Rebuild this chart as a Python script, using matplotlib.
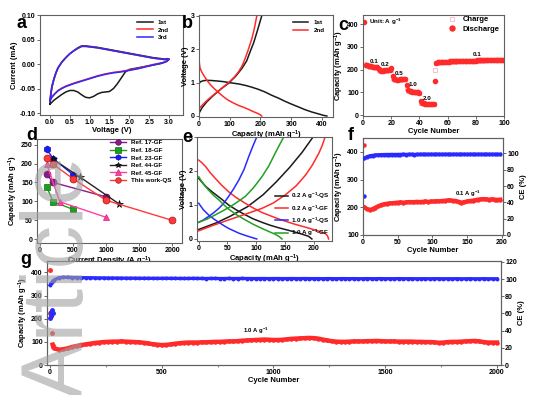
import numpy as np
import matplotlib
matplotlib.use('Agg')
import matplotlib.pyplot as plt
from matplotlib.ticker import MultipleLocator, FormatStrFormatter

plt.rcParams['font.family'] = ['Liberation Sans', 'DejaVu Sans']
plt.rcParams['font.weight'] = 'bold'
plt.rcParams['axes.labelweight'] = 'bold'
plt.rcParams['mathtext.default'] = 'regular'

W, H = 534, 395
RED = '#ff2a2a'
BLUE = '#2a2aff'
BLACK = '#1a1a1a'
GREEN = '#22a022'

# ---------------- data ----------------
# (a) CV curves
a1_v = [0.0, 0.02, 0.05, 0.1, 0.15, 0.2, 0.3, 0.4, 0.5, 0.6, 0.7, 0.8, 0.9, 1.0, 1.2, 1.4, 1.6, 1.8, 2.0, 2.2, 2.4, 2.6, 2.8, 2.9, 2.95, 3.0,
        2.95, 2.9, 2.8, 2.6, 2.4, 2.2, 2.0, 1.9, 1.8, 1.7, 1.6, 1.5, 1.4, 1.3, 1.2, 1.1, 1.0, 0.9, 0.8, 0.7, 0.6, 0.5, 0.4, 0.3, 0.2, 0.1, 0.05, 0.0]
a1_i = [-0.082, -0.066, -0.048, -0.032, -0.019, -0.009, 0.004, 0.013, 0.021, 0.027, 0.033, 0.037, 0.037, 0.036, 0.034, 0.031, 0.028, 0.025, 0.022, 0.019, 0.016, 0.013, 0.011, 0.010, 0.011, 0.010,
        0.006, 0.004, 0.001, -0.002, -0.005, -0.008, -0.011, -0.016, -0.028, -0.040, -0.050, -0.056, -0.057, -0.058, -0.061, -0.066, -0.069, -0.068, -0.063, -0.057, -0.054, -0.054, -0.057, -0.062, -0.068, -0.074, -0.078, -0.082]
a2_v = [0.0, 0.02, 0.05, 0.1, 0.15, 0.2, 0.3, 0.4, 0.5, 0.6, 0.7, 0.8, 0.9, 1.0, 1.2, 1.4, 1.6, 1.8, 2.0, 2.2, 2.4, 2.6, 2.8, 2.9, 2.95, 3.0,
        2.95, 2.9, 2.8, 2.6, 2.4, 2.2, 2.0, 1.8, 1.6, 1.4, 1.2, 1.0, 0.8, 0.6, 0.4, 0.3, 0.2, 0.1, 0.05, 0.0]
a2_i = [-0.074, -0.061, -0.045, -0.030, -0.018, -0.008, 0.004, 0.013, 0.021, 0.027, 0.032, 0.036, 0.036, 0.035, 0.033, 0.030, 0.027, 0.024, 0.021, 0.018, 0.015, 0.012, 0.010, 0.009, 0.010, 0.010,
        0.006, 0.004, 0.002, -0.001, -0.005, -0.009, -0.012, -0.015, -0.017, -0.020, -0.024, -0.029, -0.034, -0.039, -0.045, -0.049, -0.054, -0.062, -0.067, -0.074]
a3_v = [0.0, 0.02, 0.05, 0.1, 0.15, 0.2, 0.3, 0.4, 0.5, 0.6, 0.7, 0.8, 0.9, 1.0, 1.2, 1.4, 1.6, 1.8, 2.0, 2.2, 2.4, 2.6, 2.8, 2.9, 2.95, 3.0,
        2.95, 2.9, 2.8, 2.6, 2.4, 2.2, 2.0, 1.8, 1.6, 1.4, 1.2, 1.0, 0.8, 0.6, 0.4, 0.3, 0.2, 0.1, 0.05, 0.0]
a3_i = [-0.075, -0.062, -0.045, -0.030, -0.018, -0.008, 0.004, 0.013, 0.021, 0.027, 0.032, 0.036, 0.036, 0.035, 0.033, 0.030, 0.027, 0.024, 0.021, 0.018, 0.015, 0.012, 0.010, 0.009, 0.010, 0.010,
        0.006, 0.004, 0.002, -0.002, -0.006, -0.010, -0.013, -0.016, -0.018, -0.021, -0.025, -0.030, -0.035, -0.040, -0.046, -0.050, -0.055, -0.063, -0.068, -0.075]

# (b) charge/discharge profiles
b1_dis_cap = [0, 5, 15, 25, 40, 60, 80, 100, 130, 150, 170, 193, 215, 237, 260, 280, 300, 324, 345, 367, 390, 405, 416]
b1_dis_v = [0.97, 1.03, 1.06, 1.07, 1.065, 1.05, 1.03, 1.0, 0.96, 0.92, 0.87, 0.80, 0.72, 0.62, 0.53, 0.44, 0.36, 0.27, 0.19, 0.12, 0.06, 0.02, 0.0]
b1_chg_cap = [0, 10, 25, 45, 70, 96, 120, 139, 155, 166, 178, 188, 196, 204]
b1_chg_v = [0.08, 0.25, 0.42, 0.60, 0.80, 0.98, 1.20, 1.42, 1.65, 1.92, 2.20, 2.50, 2.75, 3.0]
b2_dis_cap = [0, 1, 3, 9, 18, 30, 40, 52, 63, 74, 85, 96, 112, 128, 145, 161, 177, 193, 200, 204]
b2_dis_v = [1.82, 1.6, 1.45, 1.32, 1.18, 1.02, 0.91, 0.80, 0.71, 0.62, 0.54, 0.47, 0.39, 0.32, 0.26, 0.20, 0.13, 0.07, 0.03, 0.0]
b2_chg_cap = [0, 15, 30, 52, 75, 96, 115, 128, 140, 150, 160, 172, 180, 188]
b2_chg_v = [0.22, 0.37, 0.50, 0.67, 0.84, 1.0, 1.17, 1.32, 1.50, 1.72, 1.98, 2.32, 2.62, 3.0]

# (c) rate capability
c_cycle = list(range(1, 101))
c_dis = [409, 221, 219, 217, 215, 214, 213, 212, 211, 210,
         201, 197, 196, 196, 197, 197, 198, 199, 200, 208,
         174, 160, 157, 156, 156, 157, 157, 158, 158, 159,
         133, 110, 106, 104, 103, 102, 101, 100, 100, 99,
         64, 53, 51, 50, 50, 49, 49, 49, 48, 48,
         152, 231, 232, 233, 233, 234, 234, 234, 235, 235,
         235, 236, 236, 236, 236, 237, 237, 237, 237, 238,
         238, 238, 238, 238, 239, 239, 239, 239, 239, 239,
         240, 240, 240, 240, 240, 241, 241, 241, 241, 241,
         241, 241, 242, 242, 242, 242, 242, 242, 243, 243]
c_chg = [226, 219, 217, 215, 213, 212, 211, 210, 209, 208,
         199, 196, 195, 195, 196, 196, 197, 198, 199, 200,
         165, 158, 156, 155, 155, 156, 156, 157, 157, 158,
         118, 108, 105, 103, 102, 101, 100, 99, 99, 98,
         55, 51, 50, 49, 49, 48, 48, 48, 47, 47,
         200, 229, 231, 232, 232, 233, 233, 233, 234, 234,
         234, 235, 235, 235, 235, 236, 236, 236, 236, 237,
         237, 237, 237, 237, 238, 238, 238, 238, 238, 238,
         239, 239, 239, 239, 239, 240, 240, 240, 240, 240,
         240, 240, 241, 241, 241, 241, 241, 241, 242, 242]
c_rate_labels = ['0.1', '0.2', '0.5', '1.0', '2.0', '0.1']
c_rate_x = [8, 15.5, 25.7, 35.3, 45.3, 81]
c_rate_y = [236, 221, 185, 133, 75, 265]

# (d) comparison
d_labels = ['Ref. 17-GF', 'Ref. 18-GF', 'Ref. 23-GF', 'Ref. 44-GF', 'Ref. 45-GF', 'This work-QS']
d_x = [[100, 200, 1000], [100, 200, 500], [100, 200, 500], [200, 600, 1200], [100, 300, 1000], [100, 200, 500, 1000, 2000]]
d_y = [[172, 150, 112], [139, 99, 79], [238, 213, 171], [211, 165, 93], [200, 99, 58], [216, 198, 160, 103, 50]]

# (e) profiles at different rates
e_labels = [r'0.2 A g$^{-1}$-QS', r'0.2 A g$^{-1}$-GF', r'1.0 A g$^{-1}$-QS', r'1.0 A g$^{-1}$-GF']
e_dis_cap = [[0, 12, 23, 40, 52, 65, 81, 95, 110, 125, 139, 155, 168, 180, 191, 197],
             [0, 5, 12, 20, 29, 40, 52, 65, 81, 95, 110, 125, 139, 155, 168, 183, 197, 207, 214, 220, 223, 225, 226],
             [0, 8, 17, 26, 35, 44, 52, 61, 70, 80, 93, 101],
             [0, 8, 17, 26, 35, 44, 52, 65, 81, 95, 110, 122, 133, 140, 145]]
e_dis_v = [[1.78, 1.55, 1.39, 1.17, 1.0, 0.86, 0.71, 0.59, 0.49, 0.40, 0.33, 0.26, 0.20, 0.14, 0.08, 0.0],
           [2.32, 2.25, 2.13, 1.95, 1.78, 1.58, 1.39, 1.22, 1.05, 0.91, 0.78, 0.68, 0.59, 0.50, 0.43, 0.36, 0.29, 0.24, 0.20, 0.16, 0.12, 0.06, 0.0],
           [1.05, 0.86, 0.71, 0.59, 0.49, 0.39, 0.31, 0.24, 0.17, 0.11, 0.04, 0.0],
           [1.83, 1.62, 1.44, 1.28, 1.15, 1.0, 0.88, 0.72, 0.56, 0.43, 0.31, 0.22, 0.14, 0.07, 0.0]]
e_chg_cap = [[0, 30, 55, 85, 112, 135, 158, 180, 199],
             [0, 25, 52, 80, 110, 130, 151, 170, 186, 198, 209, 215, 220],
             [0, 8, 17, 26, 35, 44, 52, 61, 70, 79, 87, 94, 101],
             [0, 15, 29, 40, 52, 65, 81, 95, 110, 122, 133, 141, 148]]
e_chg_v = [[0.28, 0.47, 0.67, 0.95, 1.30, 1.68, 2.10, 2.55, 3.0],
           [0.24, 0.40, 0.56, 0.72, 0.90, 1.06, 1.30, 1.57, 1.88, 2.18, 2.52, 2.75, 3.0],
           [0.49, 0.56, 0.66, 0.77, 0.90, 1.06, 1.25, 1.48, 1.74, 2.05, 2.42, 2.72, 3.0],
           [0.49, 0.59, 0.71, 0.81, 0.92, 1.06, 1.25, 1.50, 1.83, 2.15, 2.52, 2.78, 3.0]]

# (f) cycling at 0.1 A/g
f_first_cap = 423
f_first_ce = 48
f_cycle = list(range(2, 201, 4))
f_cap = [200, 194, 191, 194, 199, 204, 208, 211, 213, 214,
         215, 216, 217, 218, 217, 218, 219, 219, 219, 220,
         219, 220, 221, 220, 221, 221, 222, 222, 223, 224,
         225, 225, 224, 223, 220, 217, 219, 221, 223, 224,
         226, 228, 229, 230, 229, 228, 229, 228, 227, 228]
f_ce = [94.0, 96.0, 97.0, 97.5, 98.0, 98.2, 98.4, 98.5, 98.6, 98.6,
        98.7, 98.6, 98.7, 98.7, 98.8, 98.7, 98.8, 98.8, 98.7, 98.8,
        98.8, 98.9, 98.8, 98.8, 98.9, 98.8, 98.9, 98.9, 98.8, 98.9,
        98.9, 98.8, 98.9, 98.9, 98.8, 98.9, 98.9, 98.8, 98.9, 98.9,
        98.8, 98.9, 98.9, 98.8, 98.9, 98.8, 98.9, 98.8, 98.8, 98.8]

# (g) long cycling at 1.0 A/g
g_early_cyc = [1, 2, 3, 4, 5, 10]
g_early_cap = [408, 225, 218, 212, 210, 140]
g_early_ce_cyc = [2, 4, 6, 9, 13]
g_early_ce = [55, 62, 58, 64, 60]
g_cyc = [12, 15] + list(range(20, 2001, 20))
g_cap = [88, 78,
         72, 66, 68, 72, 78, 82, 86, 89, 92, 95,
         97, 99, 100, 101, 101, 102, 101, 100, 99, 98,
         96, 93, 90, 88, 86, 87, 89, 92, 94, 96,
         97, 97, 97, 98, 98, 99, 100, 100, 101, 102,
         102, 103, 105, 106, 107, 108, 109, 110, 109, 108,
         108, 109, 111, 113, 114, 115, 116, 117, 116, 114,
         110, 106, 103, 101, 100, 100, 101, 102, 102, 102,
         103, 103, 104, 103, 102, 102, 102, 101, 101, 101,
         101, 100, 100, 99, 99, 98, 96, 97, 99, 100,
         100, 101, 102, 103, 104, 102, 99, 97, 97, 97]
g_ce_cyc = [1, 5, 10, 15] + list(range(20, 2001, 20))
g_ce = [93.0, 95.0, 96.5, 98.0,
        99.0, 101.5, 102.0, 102.0, 101.8, 101.7, 101.6, 101.5, 101.5, 101.4,
        101.3, 101.3, 101.2, 101.2, 101.1, 101.1, 101.0, 101.0, 101.0, 100.9,
        100.9, 100.9, 100.8, 100.8, 100.8, 100.9, 100.8, 100.8, 100.7, 100.7,
        100.7, 100.8, 100.7, 100.7, 100.6, 100.7, 100.7, 100.6, 100.6, 100.7,
        100.6, 100.6, 100.7, 100.6, 100.6, 100.5, 100.6, 100.6, 100.5, 100.6,
        100.6, 100.5, 100.5, 100.6, 100.5, 100.5, 100.6, 100.5, 100.5, 100.5,
        100.4, 100.5, 100.5, 100.4, 100.5, 100.5, 100.4, 100.5, 100.4, 100.4,
        100.5, 100.4, 100.4, 100.5, 100.4, 100.4, 100.4, 100.5, 100.4, 100.4,
        100.4, 100.3, 100.4, 100.4, 100.3, 100.4, 100.4, 100.3, 100.4, 100.3,
        100.4, 100.3, 100.3, 100.4, 100.3, 100.3, 100.4, 100.3, 100.3, 100.3]

CAP_LABEL = r'Capacity (mAh g$^{-1}$)'

# ---------------- figure ----------------
fig = plt.figure(figsize=(W / 100, H / 100), dpi=100)


def add_ax(x0, y0, x1, y1):
    return fig.add_axes([x0 / W, 1 - y1 / H, (x1 - x0) / W, (y1 - y0) / H])


def style(ax):
    for s in ax.spines.values():
        s.set_color('#606060')
        s.set_linewidth(0.8)
    ax.tick_params(labelsize=5, length=2, width=0.6, pad=1, color='#505050', direction='out')


def label(ax, xl, yl):
    ax.set_xlabel(xl, fontsize=5.5, labelpad=0.5)
    ax.set_ylabel(yl, fontsize=5.5, labelpad=1)


def panel(ch, x, y):
    fig.text(x / W, 1 - y / H, ch, fontsize=13, fontweight='bold', ha='center', va='center')


# (a)
ax = add_ax(40, 15, 183, 115)
style(ax)
ax.plot(a1_v, a1_i, color=BLACK, lw=1.1, label='1st')
ax.plot(a2_v, a2_i, color=RED, lw=1.1, label='2nd')
ax.plot(a3_v, a3_i, color=BLUE, lw=1.1, label='3rd')
ax.set_xlim(-0.25, 3.35)
ax.set_ylim(-0.104, 0.10)
ax.xaxis.set_major_locator(MultipleLocator(0.5))
ax.xaxis.set_major_formatter(FormatStrFormatter('%.1f'))
ax.yaxis.set_major_locator(MultipleLocator(0.05))
ax.yaxis.set_major_formatter(FormatStrFormatter('%.2f'))
label(ax, 'Voltage (V)', 'Current (mA)')
ax.legend(loc='upper left', bbox_to_anchor=(0.68, 0.95), fontsize=4.5, frameon=False,
          handlelength=2.5, labelspacing=0.3, borderpad=0, borderaxespad=0)

# (b)
ax = add_ax(199, 15, 333, 117)
style(ax)
ax.plot(b1_dis_cap, b1_dis_v, color=BLACK, lw=1.1, label='1st')
ax.plot(b2_dis_cap, b2_dis_v, color=RED, lw=1.1, label='2nd')
ax.plot(b1_chg_cap, b1_chg_v, color=BLACK, lw=1.1)
ax.plot(b2_chg_cap, b2_chg_v, color=RED, lw=1.1)
ax.set_xlim(0, 436)
ax.set_ylim(-0.03, 3.03)
ax.xaxis.set_major_locator(MultipleLocator(100))
ax.yaxis.set_major_locator(MultipleLocator(1))
label(ax, r'Capacity (mAh g$^{-1}$)', 'Voltage (V)')
ax.legend(loc='upper left', bbox_to_anchor=(0.70, 0.95), fontsize=4.5, frameon=False,
          handlelength=2.5, labelspacing=0.3, borderpad=0, borderaxespad=0)

# (c)
ax = add_ax(363, 15, 504, 116)
style(ax)
ax.plot(c_cycle, c_chg, ls='none', marker='s', ms=3, mfc='none', mec='#f6b4c6', mew=0.6, label='Charge')
ax.plot(c_cycle, c_dis, ls='none', marker='o', ms=3, color=RED, mec=RED, label='Discharge')
for t, x, y in zip(c_rate_labels, c_rate_x, c_rate_y):
    ax.text(x, y, t, fontsize=4.5, ha='center', va='center')
ax.text(4, 409, r'Unit: A g$^{-1}$', fontsize=4.5, ha='left', va='center')
ax.set_xlim(0, 100)
ax.set_ylim(-4, 440)
ax.xaxis.set_major_locator(MultipleLocator(20))
ax.yaxis.set_major_locator(MultipleLocator(100))
label(ax, 'Cycle Number', CAP_LABEL)
ax.legend(loc='upper left', bbox_to_anchor=(0.6, 0.99), fontsize=5.5, frameon=False,
          handlelength=1.2, labelspacing=0.25, borderpad=0, borderaxespad=0, markerscale=1.2)

# (d)
ax = add_ax(37, 139, 182, 243)
style(ax)
d_colors = ['#8b1a8b', '#1e9e1e', '#1a1aff', '#222222', '#ff40a0', '#ff3a3a']
d_markers = ['o', 's', 'h', '*', '^', 'o']
d_edges = ['#5a0a5a', '#0e6e0e', '#0a0aa0', '#000000', '#d02080', '#b01010']
for xs, ys, lab, c, m, ec in zip(d_x, d_y, d_labels, d_colors, d_markers, d_edges):
    ax.plot(xs, ys, color=c, lw=1.0, marker=m, ms=5 if m != '*' else 5.5, mfc=c, mec=ec, mew=0.5, label=lab)
ax.set_xlim(-45, 2150)
ax.set_ylim(-10, 265)
ax.xaxis.set_major_locator(MultipleLocator(500))
ax.yaxis.set_major_locator(MultipleLocator(50))
label(ax, r'Current Density (A g$^{-1}$)', CAP_LABEL)
ax.legend(loc='upper left', bbox_to_anchor=(0.50, 0.99), fontsize=4.5, frameon=False,
          handlelength=2.6, labelspacing=0.35, borderpad=0, borderaxespad=0, markerscale=0.8)

# (e)
ax = add_ax(197, 137, 332, 241)
style(ax)
e_colors = [BLACK, RED, BLUE, GREEN]
for i in range(4):
    ax.plot(e_dis_cap[i], e_dis_v[i], color=e_colors[i], lw=1.1, label=e_labels[i])
    ax.plot(e_chg_cap[i], e_chg_v[i], color=e_colors[i], lw=1.1)
ax.set_xlim(-3, 232)
ax.set_ylim(-0.06, 3.0)
ax.xaxis.set_major_locator(MultipleLocator(50))
ax.yaxis.set_major_locator(MultipleLocator(1))
label(ax, r'Capacity (mAh g$^{-1}$)', 'Voltage (V)')
ax.legend(loc='upper left', bbox_to_anchor=(0.575, 0.48), fontsize=4.5, frameon=False,
          handlelength=2.2, labelspacing=0.3, borderpad=0, borderaxespad=0, handletextpad=0.4)

# (f)
ax = add_ax(363, 138, 503, 235)
style(ax)
ax2 = ax.twinx()
style(ax2)
ax.plot(f_cycle, f_cap, color=RED, lw=3.0, marker='o', ms=2.2, zorder=3)
ax.plot([1], [f_first_cap], ls='none', marker='o', ms=2.2, color=RED)
ax2.plot(f_cycle, f_ce, color=BLUE, lw=2.6, marker='o', ms=2, zorder=3)
ax2.plot([1], [f_first_ce], ls='none', marker='o', ms=2.2, color=BLUE)
ax.text(152, 249, r'0.1 A g$^{-1}$', fontsize=4.2, ha='center', va='center')
ax.set_xlim(0, 202)
ax.set_ylim(100, 450)
ax2.set_ylim(0, 119)
ax.xaxis.set_major_locator(MultipleLocator(50))
ax.yaxis.set_major_locator(MultipleLocator(100))
ax2.yaxis.set_major_locator(MultipleLocator(20))
label(ax, 'Cycle Number', CAP_LABEL)
ax2.set_ylabel('CE (%)', fontsize=5.5, labelpad=1)

# (g)
ax = add_ax(47, 261, 501, 365)
style(ax)
ax2 = ax.twinx()
style(ax2)
ax.plot(g_cyc, g_cap, color=RED, lw=3.2, marker='o', ms=2.2, zorder=3)
ax.plot(g_early_cyc, g_early_cap, ls='none', marker='o', ms=2.5, color=RED)
ax2.plot(g_ce_cyc, g_ce, color=BLUE, lw=2.4, marker='o', ms=1.8, zorder=3)
ax2.plot(g_early_ce_cyc, g_early_ce, ls='none', marker='o', ms=2.5, color=BLUE)
ax.text(920, 146, r'1.0 A g$^{-1}$', fontsize=4.2, ha='center', va='center')
ax.set_xlim(-13, 2018)
ax.set_ylim(0, 449)
ax2.set_ylim(0, 121)
ax.xaxis.set_major_locator(MultipleLocator(500))
ax.xaxis.set_minor_locator(MultipleLocator(250))
ax.tick_params(which='minor', length=1.5, width=0.5, color='#505050')
ax.yaxis.set_major_locator(MultipleLocator(100))
ax2.yaxis.set_major_locator(MultipleLocator(20))
label(ax, 'Cycle Number', CAP_LABEL)
ax2.set_ylabel('CE (%)', fontsize=5.5, labelpad=1)

# panel letters
panel('a', 22, 23)
panel('b', 187, 23)
panel('c', 343, 25)
panel('d', 32, 135)
panel('e', 187, 137)
panel('f', 351, 136)
panel('g', 26, 259)

# watermark
fig.text(60 / W, 1 - 277 / H, 'Article', rotation=90, fontsize=63, color='#a0a0a0',
         alpha=0.6, ha='center', va='center', fontweight='normal', zorder=10)

fig.savefig('out.png', dpi=100)
